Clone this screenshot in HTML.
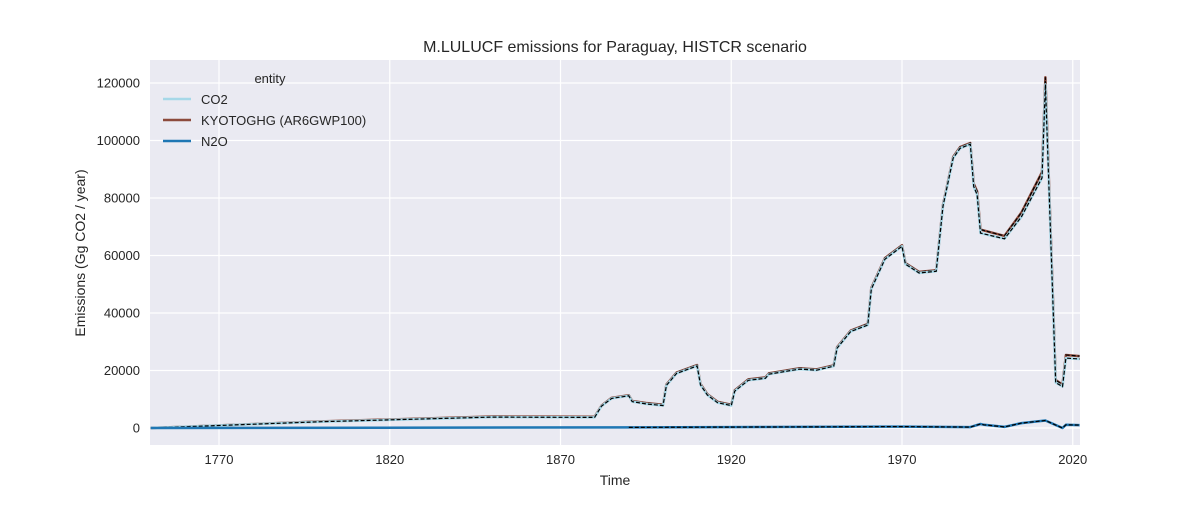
<!DOCTYPE html>
<html><head><meta charset="utf-8"><style>
body{margin:0;background:#fff;font-family:"Liberation Sans",sans-serif}
svg text{font-family:"Liberation Sans",sans-serif;fill:#262626}
</style></head><body>
<svg width="1200" height="500" id="c">
<rect x="150" y="60" width="930" height="385" fill="#eaeaf2"/>
<g id="grid"></g><g id="lines"></g><g id="axes"></g>
<text x="615" y="52" text-anchor="middle" font-size="16">M.LULUCF emissions for Paraguay, HISTCR scenario</text>
<text x="615" y="485" text-anchor="middle" font-size="14">Time</text>
<text transform="translate(85,253) rotate(-90)" text-anchor="middle" font-size="14">Emissions (Gg CO2 / year)</text>
<g>
<text x="270" y="83" text-anchor="middle" font-size="13">entity</text>
<g><line x1="163" y1="99" x2="191" y2="99" stroke="#a6d8e8" stroke-width="2.5"/><text x="201" y="104" font-size="13">CO2</text></g>
<g><line x1="163" y1="120" x2="191" y2="120" stroke="#8c4a3c" stroke-width="2.5"/><text x="201" y="125" font-size="13">KYOTOGHG (AR6GWP100)</text></g>
<g><line x1="163" y1="141" x2="191" y2="141" stroke="#1f77b4" stroke-width="2.5"/><text x="201" y="146" font-size="13">N2O</text></g>
</g>
</svg>
<script>
const years=[1750,1800,1850,1880,1882,1885,1890,1891,1895,1900,1901,1904,1910,1911,1913,1916,1920,1921,1925,1930,1931,1940,1945,1950,1951,1955,1960,1961,1965,1970,1971,1975,1980,1982,1985,1987,1990,1991,1992,1993,2000,2005,2011,2012,2015,2017,2018,2022];
const co2=[0,2200,3800,3700,7600,10300,11200,9200,8400,7800,14800,19000,21600,15000,11500,8800,7800,12800,16600,17300,18700,20500,20100,21500,27800,33600,35800,48300,58700,63200,57000,53900,54500,77200,93900,97300,98700,84000,81200,67800,65800,73500,87000,119500,15800,14400,24300,24000];
const kyoto=[0,2300,4000,3900,7800,10500,11400,9400,8700,8100,15100,19300,21900,15300,11800,9100,8100,13100,16900,17600,19000,20800,20400,21800,28100,33900,36200,48700,59100,63600,57400,54300,54900,77600,94300,97700,99100,85000,82300,69000,66800,75000,89000,122000,16700,15100,25400,25000];
const n2oYears=[1750,1890,1970,1990,1993,1994,2000,2005,2012,2017,2018,2022];
const n2o=[0,200,500,300,1400,1100,400,1700,2600,0,1100,1000];
const n2oDashStart=1890;
const yTicks=[0,20000,40000,60000,80000,100000,120000];
const xTicks=[1770,1820,1870,1920,1970,2020];
const X=y=>150.7+(y-1750)*3.415, Y=v=>428-v*345/120000;
const NS="http://www.w3.org/2000/svg";
function mk(tag,attrs,parent){const e=document.createElementNS(NS,tag);for(const k in attrs)e.setAttribute(k,attrs[k]);parent.appendChild(e);return e;}
const grid=document.getElementById('grid'),axes=document.getElementById('axes'),lines=document.getElementById('lines');
yTicks.forEach(t=>{const l=mk('line',{x1:150,x2:1080,y1:Y(t),y2:Y(t),stroke:'#fff','stroke-width':1.2},grid);


const tx=mk('text',{x:140,y:Y(t)+4.5,'text-anchor':'end','font-size':13},axes);tx.textContent=t;

});
xTicks.forEach(t=>{const l=mk('line',{x1:X(t),x2:X(t),y1:60,y2:445,stroke:'#fff','stroke-width':1.2},grid);


const tx=mk('text',{x:X(t),y:464,'text-anchor':'middle','font-size':13},axes);tx.textContent=t;

});
function pts(xs,vs){return xs.map((y,i)=>X(y).toFixed(1)+','+Y(vs[i]).toFixed(1)).join(' ');}
function series(xs,vs,color,name,dashFrom){
const p=mk('polyline',{points:pts(xs,vs),fill:'none',stroke:color,'stroke-width':2.5,'stroke-linejoin':'round'},lines);


const idx=xs.map((y,i)=>i).filter(i=>xs[i]>=dashFrom);
const dx=idx.map(i=>xs[i]),dv=idx.map(i=>vs[i]);
const d=mk('polyline',{points:pts(dx,dv),fill:'none',stroke:'#000','stroke-width':1.2,'stroke-dasharray':'4,2'},lines);

}
series(years,kyoto,'#8c4a3c','kyotoghg',0);
series(years,co2,'#a6d8e8','co2',0);
series(n2oYears,n2o,'#1f77b4','n2o',n2oDashStart);
</script>
</body></html>
